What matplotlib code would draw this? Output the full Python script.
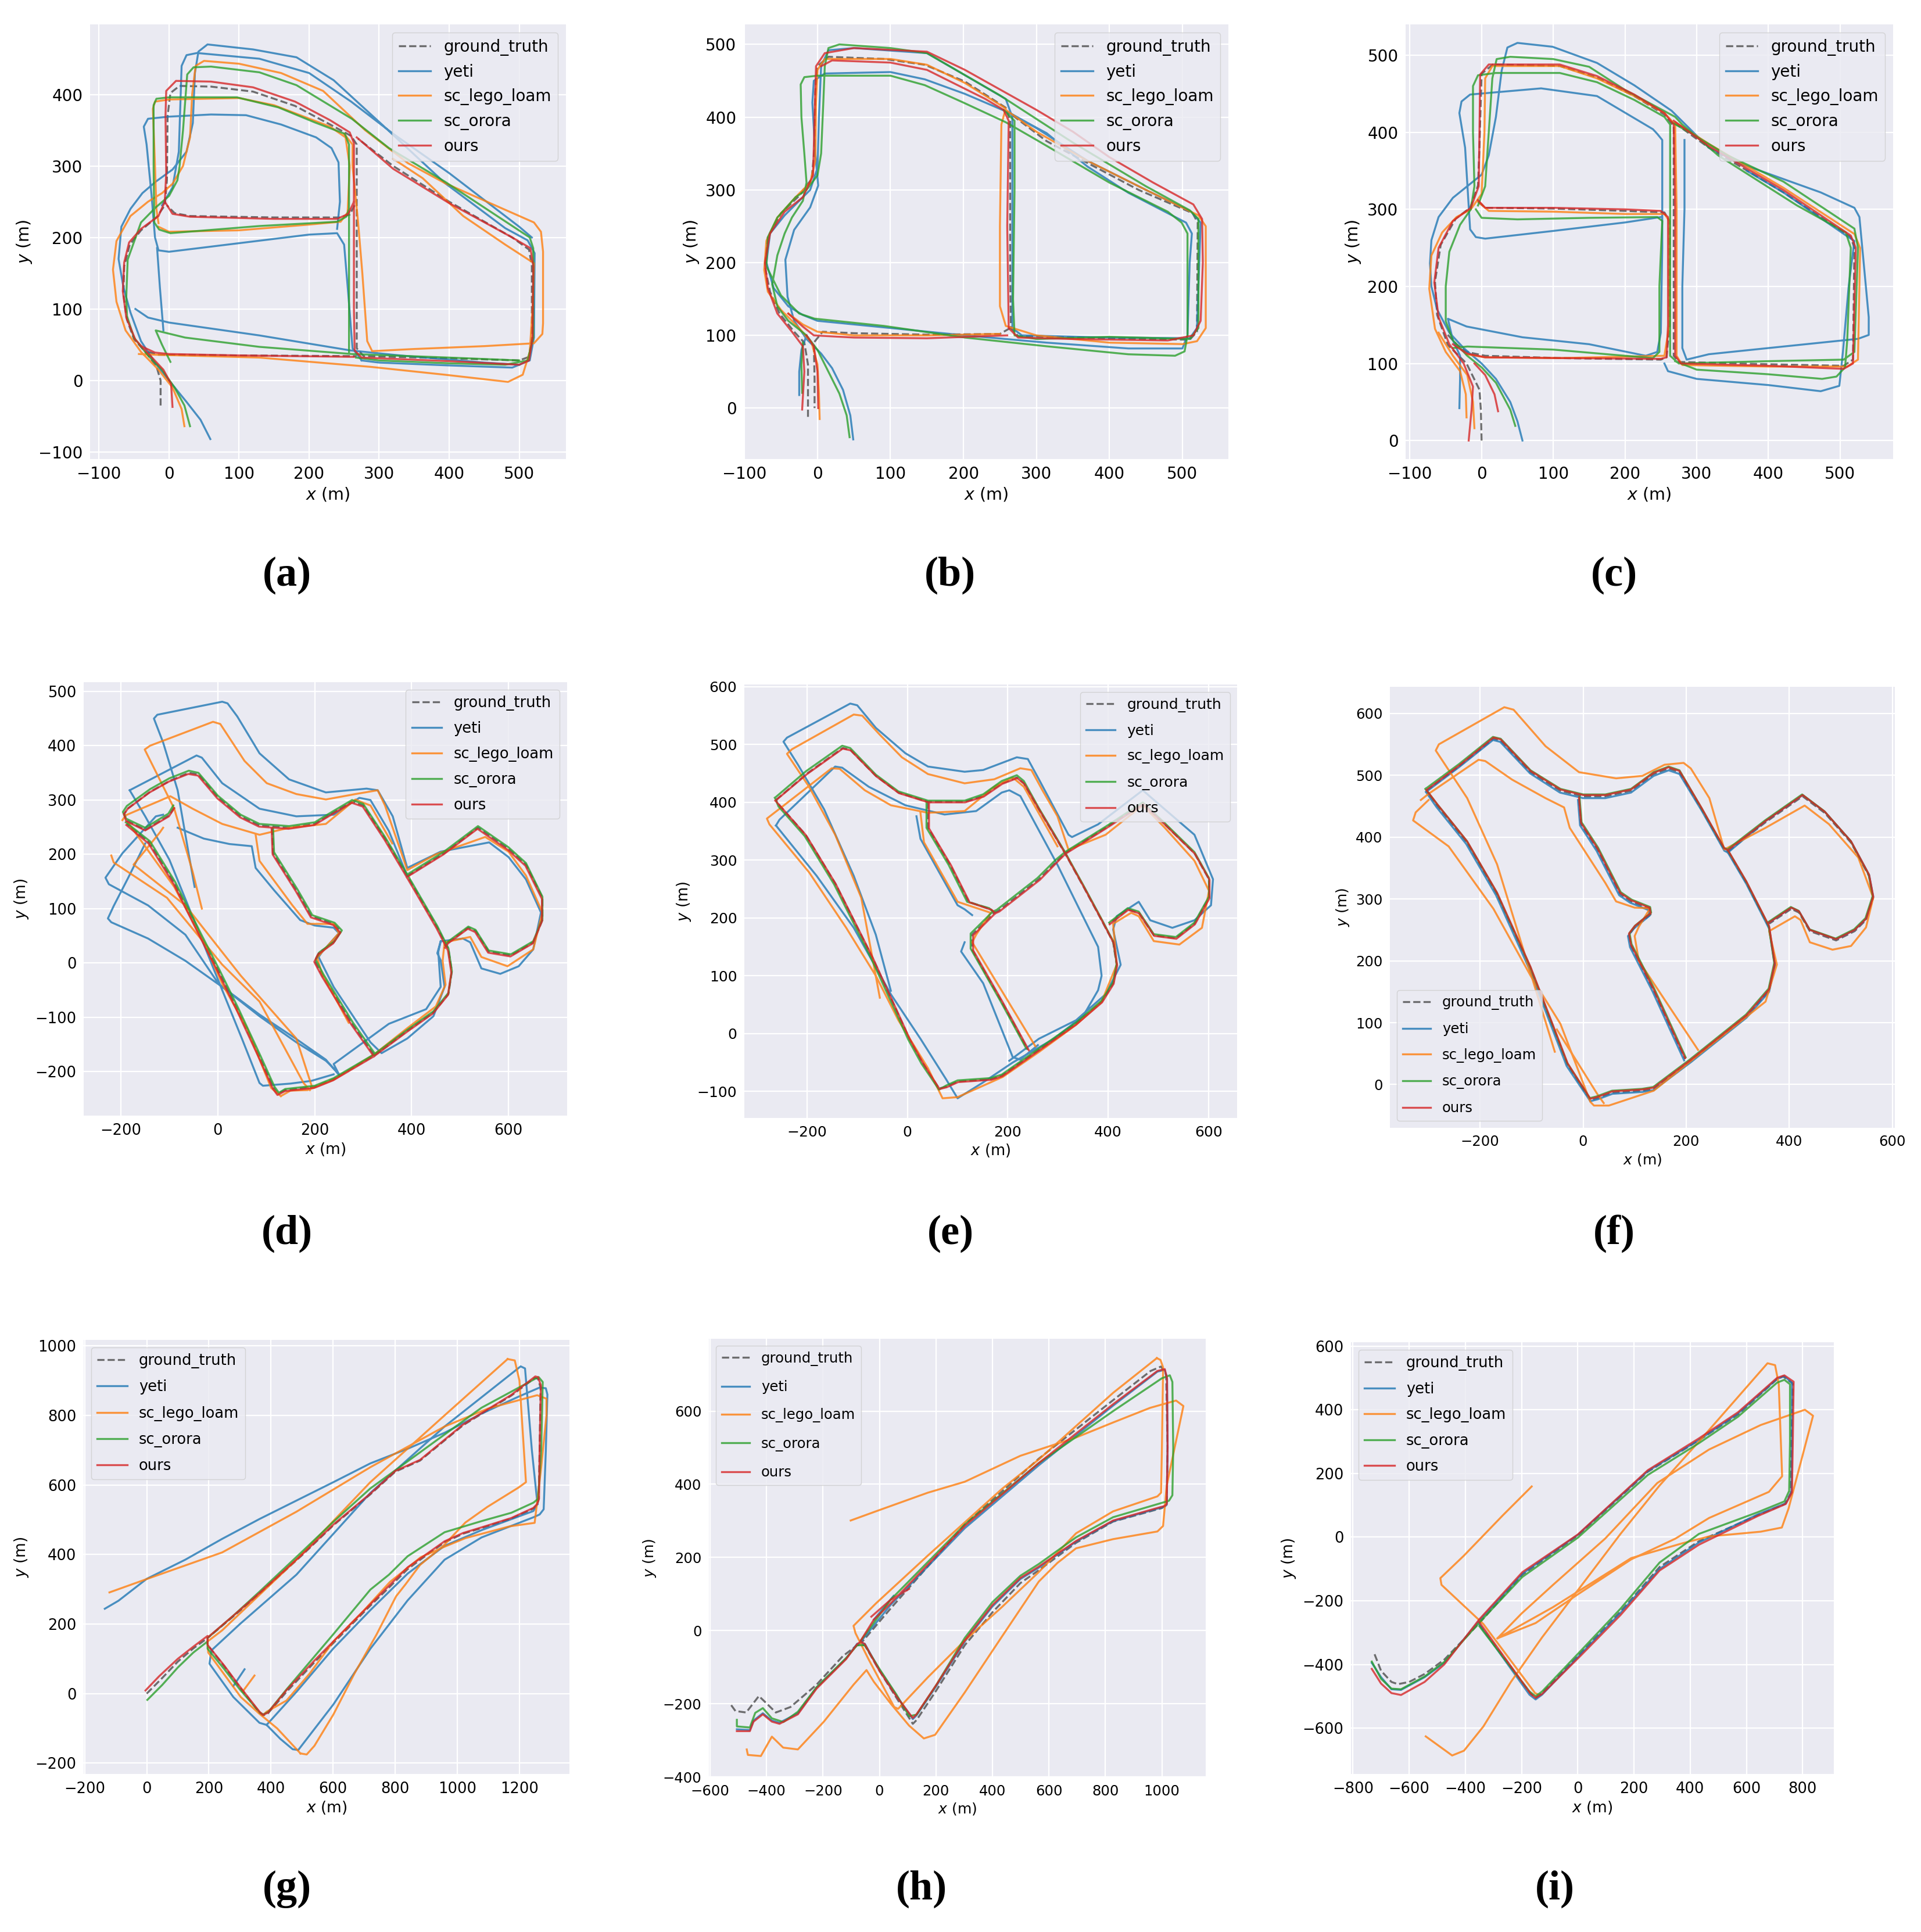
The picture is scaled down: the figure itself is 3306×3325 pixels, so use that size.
import numpy as np
import matplotlib.pyplot as plt

# trajectories, (x, y) in metres; None breaks a stroke

# ---- panel (a) ----
A_GT = [(-12, -35), (-12, 0), (-18, 20), (-32, 38), (-50, 58), (-60, 85), (-65, 120), (-64, 160), (-56, 190),
        (-40, 210), (-18, 228), (-6, 245), (-3, 280), (-2, 370), (2, 402), (15, 412), (60, 411), (120, 404),
        (180, 384), (230, 358), (260, 342), (268, 330), (268, 240), (268, 100), (268, 45), (278, 34), (400, 31),
        (500, 28), (514, 33), (518, 60), (518, 160), (514, 183), (490, 200), (400, 250), (320, 300), (270, 338), None,
        (265, 245), (258, 232), (245, 228), (150, 228), (30, 230), (8, 234), (-3, 245), None,
        (-30, 40), (-15, 36), (100, 35), (268, 34)]
A_YETI = [(59, -82), (45, -55), (25, -30), (0, 0), (-20, 25), (-40, 55), (-55, 95), (-65, 130), (-72, 170),
          (-68, 215), (-55, 240), (-38, 262), (-19, 278), (5, 295), (25, 320), (34, 360), (37, 430), (42, 460),
          (55, 470), (120, 463), (182, 452), (235, 420), (304, 358), (394, 276), (480, 213), (512, 196), (522, 178),
          (521, 60), (515, 28), (490, 18), (400, 21), (300, 25), (275, 28), None,
          (275, 28), (262, 45), (256, 120), (250, 190), (240, 206), (200, 204), (100, 192), (0, 180), (-15, 182),
          (-20, 200), (-25, 260), (-32, 330), (-36, 355), (-30, 366), (0, 369), (60, 372), (110, 371), (160, 358),
          (210, 340), (232, 325), (242, 305), (244, 250), (240, 212), None,
          (-48, 100), (-30, 88), (0, 81), (129, 63), (259, 42), (330, 35), (450, 25), (500, 22), None,
          (-10, 245), (5, 270), (14, 320), (16, 380), (18, 440), (25, 455), (40, 458), (129, 450), (200, 430),
          (260, 390), (320, 345), (400, 290), (500, 215), (518, 200), None,
          (-17, 185), (-13, 130), (-8, 70)]
A_LEGO = [(22, -64), (18, -40), (5, -10), (-15, 15), (-40, 40), (-62, 70), (-75, 110), (-80, 155), (-75, 195),
          (-55, 230), (-30, 250), (-10, 262), (5, 275), (20, 300), (30, 340), (33, 400), (38, 440), (50, 447),
          (100, 443), (160, 430), (220, 405), (280, 350), (341, 304), (394, 276), (470, 243), (521, 221), (531, 208),
          (534, 180), (534, 80), (533, 65), (521, 52), (450, 48), (350, 44), (290, 41), (283, 55), (276, 150),
          (270, 221), (262, 300), (262, 330), (250, 345), None,
          (-15, 215), (0, 208), (100, 210), (200, 218), (245, 222), (255, 235), (258, 300), (252, 340), (230, 355),
          (150, 385), (100, 395), (0, 393), (-20, 390), (-23, 380), (-20, 300), (-18, 240), (-15, 220), None,
          (-43, 37), (-20, 36), (129, 32), (288, 19), (394, 8), (484, -2), (505, 8), (515, 40), (519, 100),
          (521, 164), (480, 190), (420, 230), (362, 283), (320, 310)]
A_ORORA = [(30, -64), (22, -35), (8, -10), (-10, 15), (-30, 35), (-50, 60), (-60, 90), (-61, 117), (-59, 169),
           (-40, 221), (-19, 242), (0, 258), (12, 280), (15, 299), (20, 350), (26, 428), (35, 438), (60, 439),
           (129, 431), (182, 413), (261, 366), (314, 325), (394, 278), (515, 200), (520, 185), (520, 60), (512, 28),
           (480, 22), (400, 24), (300, 28), (267, 32), None,
           (257, 40), (257, 200), (257, 330), (251, 345), (208, 361), (156, 382), (97, 396), (0, 396), (-18, 394),
           (-22, 385), (-22, 300), (-21, 221), (-14, 211), (2, 206), (129, 216), (240, 222), (253, 229), (257, 240),
           None, (2, 26), (-10, 50), (-19, 70), (23, 60), (129, 47), (261, 37), (400, 32), (500, 28)]
A_OURS = [(5, -37), (3, -5), (-8, 15), (-28, 36), (-48, 57), (-61, 88), (-66, 125), (-64, 165), (-57, 193),
          (-40, 212), (-15, 230), (-6, 250), (-4, 290), (-5, 370), (-4, 405), (10, 419), (60, 418), (120, 410),
          (180, 390), (230, 364), (258, 347), (264, 332), (264, 250), (264, 100), (265, 42), (275, 32), (400, 27),
          (500, 22), (514, 28), (519, 60), (520, 160), (516, 185), (490, 200), (400, 248), (320, 296), (268, 340),
          None, (264, 250), (256, 233), (240, 226), (150, 226), (30, 229), (5, 233), (-6, 250), None,
          (-40, 48), (-20, 39), (0, 37), (100, 35), (264, 33)]

# ---- panel (b) ----
B_GT = [(-13, -12), (-13, 60), (-18, 90), (-32, 105), (-52, 130), (-65, 160), (-72, 194), (-68, 235), (-50, 268),
        (-25, 292), (-8, 315), (-4, 357), (-3, 434), (0, 470), (15, 483), (91, 480), (147, 472), (202, 449),
        (258, 413), (264, 395), (264, 200), (265, 110), (275, 99), (400, 96), (510, 94), (520, 105), (521, 255),
        (514, 268), (440, 300), (370, 337), (314, 367), (264, 405), None,
        (264, 110), (250, 102), (150, 101), (50, 103), (7, 105), (-5, 90), (-4, 40), (-4, 0)]
B_YETI = [(49, -43), (45, -10), (35, 25), (20, 55), (5, 75), (-15, 95), (-32, 120), (-41, 153), (-44, 204),
          (-32, 245), (-10, 276), (1, 306), (-3, 350), (-7, 420), (-5, 450), (10, 460), (100, 462), (147, 452),
          (202, 432), (258, 408), (314, 378), (370, 332), (426, 296), (505, 255), (513, 240), (510, 200), (507, 100),
          (500, 82), (426, 82), (314, 90), (202, 100), (91, 111), (0, 120), (-20, 128), (-40, 140), (-60, 165),
          (-70, 200), (-65, 240), (-45, 265), (-25, 285), (-10, 300), (0, 330), (2, 400), (5, 470), (15, 492),
          (50, 495), (150, 488), (258, 425), (267, 400), (267, 250), (267, 110), (280, 100), (400, 97), (510, 96),
          (520, 110), (525, 255), (512, 270), (450, 300), (370, 340), (300, 385), (265, 405), None,
          (-25, 18), (-25, 50), (-22, 80), (-15, 100)]
B_LEGO = [(3, -15), (2, 20), (0, 60), (-8, 90), (-25, 110), (-50, 135), (-68, 160), (-73, 190), (-70, 230),
          (-55, 262), (-30, 290), (-10, 310), (-3, 340), (-2, 420), (0, 465), (10, 480), (100, 480), (150, 472),
          (202, 447), (258, 412), (252, 390), (250, 250), (250, 140), (258, 113), (300, 100), (400, 90), (500, 88),
          (520, 92), (532, 110), (532, 250), (522, 265), (450, 300), (370, 340), (300, 380), (258, 410), None,
          (250, 102), (150, 100), (50, 100), (0, 105), (-20, 115), (-40, 130)]
B_ORORA = [(44, -40), (40, -10), (30, 20), (15, 50), (0, 80), (-15, 100), (-40, 120), (-55, 140), (-62, 170),
           (-55, 210), (-45, 240), (-35, 262), (-20, 285), (-15, 310), (-18, 350), (-22, 400), (-23, 445), (-18, 455),
           (0, 457), (100, 457), (147, 444), (200, 420), (258, 393), (303, 367), (400, 310), (480, 270), (499, 255),
           (507, 240), (507, 100), (503, 78), (490, 72), (426, 74), (314, 85), (202, 97), (91, 113), (-4, 123),
           (-25, 130), (-50, 155), (-70, 195), (-68, 235), (-55, 262), (-30, 290), (-15, 300), (0, 320), (5, 350),
           (8, 420), (10, 470), (15, 495), (30, 500), (100, 495), (150, 488), (250, 430), (350, 365), (450, 305),
           (510, 272), (522, 260), (522, 110), (510, 95), (400, 98), (300, 95), (270, 100), (268, 150), (270, 300),
           (270, 395), (255, 410), None, (-21, 21), (-22, 60), (-20, 90)]
B_OURS = [(-21, -2), (-18, 50), (-20, 85), (-35, 105), (-55, 130), (-68, 165), (-72, 200), (-65, 240), (-45, 270),
          (-20, 290), (-6, 320), (-4, 400), (-2, 470), (10, 488), (50, 495), (150, 490), (202, 465), (300, 410),
          (350, 380), (400, 345), (460, 310), (515, 280), (527, 260), (528, 200), (525, 120), (515, 100), (480, 93),
          (350, 95), (275, 97), (262, 110), (260, 250), (262, 395), (255, 410), (230, 425), (150, 465), (100, 475),
          (20, 478), (5, 470), None,
          (260, 100), (150, 96), (50, 97), (-5, 100), (-20, 112), (-40, 130), None,
          (1, 0), (0, 50), (-5, 85), (-15, 100)]

# ---- panel (c) ----
C_GT = [(0, 0), (-1, 40), (-3, 66), (-21, 100), (-47, 124), (-62, 163), (-65, 206), (-57, 254), (-36, 288),
        (-16, 302), (-5, 331), (-3, 380), (0, 476), (16, 488), (109, 486), (161, 471), (213, 447), (255, 423),
        (268, 408), (268, 300), (268, 200), (268, 110), (275, 102), (400, 99), (505, 97), (518, 105), (520, 250),
        (515, 264), (421, 322), (317, 380), (268, 413), None,
        (-5, 310), (5, 302), (100, 301), (200, 298), (255, 296), (262, 285), (262, 150), (258, 108), (250, 105),
        (109, 107), (5, 110), (-21, 115), (-35, 125), (-50, 140)]
C_YETI = [(57, 0), (50, 25), (40, 50), (20, 80), (0, 100), (-25, 120), (-45, 140), (-62, 170), (-70, 200),
          (-72, 230), (-70, 260), (-60, 290), (-40, 315), (-20, 330), (0, 345), (10, 370), (20, 420), (28, 480),
          (36, 510), (50, 516), (99, 511), (161, 490), (213, 461), (265, 428), (317, 380), (359, 360), (473, 322),
          (520, 302), (527, 290), (533, 230), (540, 160), (540, 137), (525, 132), (473, 127), (400, 120), (317, 112),
          (286, 105), (280, 120), (280, 200), (283, 300), (283, 390), None,
          (-31, 42), (-30, 80), (-30, 110), (-40, 130), (-47, 158), (-21, 148), (57, 134), (150, 125), (229, 110),
          (245, 115), (250, 140), (252, 250), (252, 390), (245, 398), (239, 404), (161, 447), (83, 457), (-16, 449),
          (-28, 440), (-31, 425), (-23, 380), (-16, 274), (-8, 264), (5, 262), (100, 272), (200, 283), (250, 290),
          None, (255, 100), (260, 90), (300, 80), (400, 72), (473, 64), (499, 71), (504, 115), (512, 200),
          (520, 259), (510, 265), (421, 322), (370, 350)]
C_LEGO = [(-21, 30), (-22, 60), (-30, 90), (-50, 115), (-65, 145), (-73, 197), (-70, 240), (-55, 270), (-35, 290),
          (-15, 300), (0, 320), (4, 400), (5, 470), (15, 486), (109, 486), (161, 470), (213, 447), (255, 425),
          (270, 410), (272, 300), (272, 110), (280, 98), (400, 96), (510, 96), (525, 105), (528, 250), (520, 268),
          (421, 328), (317, 385), (270, 413), None,
          (-10, 16), (-12, 50), (-20, 85), (-40, 110), (-60, 140), None,
          (-5, 310), (10, 298), (100, 297), (200, 294), (255, 294), (262, 285), (262, 150), (255, 110), (109, 107),
          (5, 108), (-21, 112)]
C_ORORA = [(47, 19), (40, 40), (20, 75), (0, 95), (-20, 110), (-40, 130), (-50, 155), (-50, 200), (-45, 245),
           (-30, 280), (-15, 300), (-10, 330), (-12, 400), (-12, 460), (-5, 474), (20, 477), (109, 477), (161, 465),
           (213, 442), (255, 420), (263, 410), (263, 300), (263, 110), (275, 100), (400, 103), (505, 105), (520, 115),
           (525, 250), (520, 275), (421, 336), (343, 370), (290, 400), (265, 413), None,
           (-40, 120), (-20, 122), (100, 118), (200, 110), (239, 107), (248, 115), (248, 200), (252, 285), (245, 290),
           (150, 289), (50, 287), (0, 289), (-8, 300), None,
           (270, 103), (300, 92), (400, 86), (475, 80), (495, 83), (507, 95), (510, 130), (515, 250), (508, 270),
           (440, 305), (330, 370), (280, 410), (270, 420), (200, 455), (150, 485), (100, 495), (40, 498), (21, 495),
           (15, 470), (10, 400), (5, 330), (-5, 305)]
C_OURS = [(-18, 0), (-14, 40), (-12, 70), (-25, 100), (-45, 125), (-60, 160), (-66, 205), (-60, 250), (-40, 285),
          (-15, 302), (-4, 330), (-3, 400), (-2, 475), (10, 488), (109, 488), (161, 473), (213, 449), (255, 425),
          (268, 410), (270, 300), (270, 110), (278, 100), (400, 97), (505, 93), (518, 100), (522, 250), (515, 266),
          (421, 325), (317, 382), (268, 415), None,
          (-5, 312), (5, 302), (100, 302), (200, 300), (250, 298), (260, 290), (260, 150), (258, 108), (250, 106),
          (109, 107), (5, 108), (-21, 113), (-40, 125), None,
          (23, 38), (18, 60), (5, 85), (-10, 100)]

# ---- panel (d) ----
D_GT = [(-90, 287), (-100, 272), (-150, 245), (-188, 262), (-193, 275), (-185, 285), (-140, 315), (-100, 335),
        (-60, 350), (-40, 347), (0, 305), (47, 270), (86, 253), (147, 249), (200, 256), (239, 277), (277, 297),
        (300, 290), (345, 229), (391, 160), (453, 65), (476, 25), (483, -16), (476, -57), (445, -91), (391, -125),
        (323, -170), (239, -214), (200, -228), (139, -234), (124, -241), (115, -230), (86, -173), (40, -85),
        (2, -16), (-37, 52), (-90, 147), (-142, 222), (-188, 256), None,
        (391, 160), (467, 202), (537, 249), (600, 210), (636, 181), (670, 120), (670, 79), (651, 38), (605, 14),
        (559, 21), (532, 59), (517, 65), (476, 38), (470, 30), None,
        (112, 249), (114, 202), (162, 134), (193, 86), (239, 72), (254, 58), (239, 38), (208, 18), (200, 4),
        (216, -23), (277, -112), (323, -170)]
D_YETI = [(-48, 140), (-60, 200), (-83, 318), (-113, 406), (-132, 450), (-125, 457), (9, 481), (20, 478), (40, 454),
          (86, 386), (147, 338), (223, 314), (307, 321), (330, 318), (361, 270), (391, 175), (460, 205), (560, 222),
          (600, 195), (636, 154), (667, 93), (651, 25), (621, -6), (583, -20), (544, -10), (521, 38), (506, 45),
          (460, 40), (455, 20), (460, -44), (430, -85), (353, -112), (239, -186), (250, -205), None,
          (-182, 318), (-44, 382), (-33, 378), (9, 331), (86, 284), (162, 270), (239, 273), (292, 304), (315, 300),
          (353, 243), (391, 160), None,
          (-113, 273), (-128, 270), (-197, 202), (-232, 157), (-225, 145), (-144, 106), (-67, 52), (2, -39),
          (86, -95), (162, -140), (223, -178), (251, -207), None,
          (-83, 249), (-29, 229), (24, 219), (70, 215), (78, 175), (116, 134), (170, 79), (200, 69), (239, 65),
          (250, 55), (215, 20), (208, 11), (239, -44), (315, -146), (338, -166), (391, -139), (445, -98),
          (468, -44), (460, 5), (453, 18), (460, 40), None,
          (-150, 220), (-185, 157), (-215, 105), (-227, 82), (-220, 75), (-144, 45), (-67, 4), (9, -44), (86, -98),
          (162, -146), (223, -180), (246, -200), None,
          (-182, 318), (-150, 270), (-100, 190), (-37, 52), (9, -50), (50, -140), (86, -221), (93, -226),
          (150, -222), (193, -217), (239, -205)]
D_LEGO = [(-33, 100), (-52, 168), (-90, 284), (-128, 352), (-151, 393), (-140, 400), (-10, 444), (5, 440),
          (55, 372), (101, 331), (162, 311), (223, 301), (284, 311), (330, 318), (345, 290), (391, 171), (450, 200),
          (552, 232), (600, 205), (636, 161), (670, 93), (651, 25), (598, -6), (544, 11), (521, 48), (468, 38),
          (464, 4), (470, -40), (450, -80), (391, -120), (323, -168), (239, -215), (185, -234), (150, -235),
          (130, -245), None,
          (-197, 263), (-190, 272), (-98, 307), (-52, 284), (9, 256), (86, 236), (147, 249), (223, 256), (284, 301),
          (300, 295), (315, 290), (360, 220), None,
          (-220, 198), (-215, 185), (-105, 120), (9, -3), (86, -71), (177, -221), (190, -234), None,
          (-113, 249), (-120, 240), (-174, 181), (-165, 175), (-67, 106), (47, -23), (162, -139), (195, -230), None,
          (78, 236), (86, 188), (154, 106), (185, 72), (239, 72), (250, 55), (205, 10), (215, -20), (270, -110), None,
          (-185, 258), (-90, 140), (-30, 40), (10, -40), (60, -120), (110, -230), (130, -245)]
D_ORORA = [(-92, 290), (-102, 275), (-150, 249), (-190, 266), (-196, 278), (-188, 289), (-140, 320), (-100, 340),
           (-60, 354), (-40, 350), (0, 308), (47, 273), (86, 256), (147, 252), (200, 259), (239, 280), (277, 300),
           (300, 293), (345, 232), (391, 163), (453, 68), (476, 27), (483, -14), (476, -55), (445, -89), (391, -123),
           (323, -168), (239, -212), (200, -226), (139, -232), (126, -239), (117, -228), (88, -171), (42, -83),
           (4, -14), (-35, 54), (-88, 149), (-140, 224), (-190, 259), None,
           (391, 163), (467, 205), (537, 252), (600, 213), (636, 184), (670, 122), (670, 81), (651, 40), (605, 16),
           (559, 23), (532, 61), (517, 67), (476, 40), (470, 32), None,
           (114, 249), (116, 204), (164, 136), (195, 88), (241, 74), (256, 60), (241, 40), (210, 20), (202, 6),
           (218, -21), (279, -110), (325, -168)]
D_OURS = [(-90, 285), (-101, 270), (-150, 244), (-189, 261), (-194, 274), (-186, 284), (-141, 314), (-101, 334),
          (-61, 348), (-41, 345), (-1, 303), (46, 268), (85, 251), (146, 247), (199, 254), (238, 275), (276, 295),
          (299, 288), (344, 227), (390, 158), (452, 63), (475, 23), (482, -18), (475, -59), (444, -93), (390, -127),
          (322, -172), (238, -216), (199, -230), (138, -236), (123, -243), (114, -232), (85, -175), (39, -87),
          (1, -18), (-38, 50), (-91, 145), (-143, 220), (-189, 254), None,
          (390, 158), (466, 200), (536, 247), (599, 208), (635, 179), (669, 118), (669, 77), (650, 36), (604, 12),
          (558, 19), (531, 57), (516, 63), (475, 36), (469, 28), None,
          (111, 247), (113, 200), (161, 132), (192, 84), (238, 70), (253, 56), (238, 36), (207, 16), (199, 2),
          (215, -25), (276, -114), (322, -172)]

# ---- panel (e) ----
E_GT = [(-262, 404), (-200, 450), (-129, 494), (-114, 491), (-63, 446), (-18, 417), (41, 401), (114, 401),
        (151, 411), (188, 433), (218, 443), (232, 433), (262, 388), (314, 312), (351, 254), (387, 196), (410, 158),
        (417, 119), (410, 87), (387, 55), (336, 17), (262, -28), (188, -73), (166, -79), (100, -83), (77, -92),
        (63, -95), (30, -50), (4, -9), (-70, 132), (-144, 260), (-203, 344), (-255, 395), (-262, 404), None,
        (314, 312), (395, 356), (469, 398), (513, 362), (572, 312), (601, 267), (601, 235), (572, 190), (535, 165),
        (491, 170), (461, 209), (439, 215), (402, 190), None,
        (41, 401), (41, 356), (85, 292), (122, 228), (166, 215), (173, 209), (151, 190), (129, 171), (129, 145),
        (188, 55), (240, -28), None,
        (173, 209), (181, 212), (262, 267), (299, 299), (314, 312)]
E_YETI = [(-33, 74), (-63, 171), (-107, 273), (-166, 388), (-218, 465), (-247, 505), (-240, 512), (-114, 571),
          (-100, 568), (-63, 529), (-4, 485), (41, 462), (114, 453), (151, 456), (218, 478), (240, 475), (262, 440),
          (321, 344), (328, 340), (380, 362), (469, 421), (513, 388), (572, 344), (609, 267), (605, 222), (572, 196),
          (528, 183), (484, 196), (461, 228), (417, 203), (410, 180), (425, 119), (395, 68), (336, 23), (262, -9),
          (203, -47), None,
          (-262, 360), (-255, 370), (-144, 462), (-130, 460), (-77, 427), (-4, 395), (74, 379), (137, 385),
          (188, 417), (203, 421), (225, 411), (299, 292), (340, 220), (380, 150), (387, 100), (380, 75), (350, 30),
          (290, -10), (210, -50), (150, -85), (100, -112), (77, -79), (26, -9), (-33, 68), (-107, 183), (-181, 273),
          (-262, 360), None,
          (18, 376), (26, 337), (100, 222), (114, 215), (129, 205), None,
          (114, 158), (107, 142), (151, 87), (210, -41), (225, -45), (260, -20)]
E_LEGO = [(-55, 62), (-92, 235), (-144, 344), (-196, 427), (-240, 484), (-230, 492), (-107, 552), (-90, 550),
          (-55, 517), (-11, 478), (41, 449), (114, 433), (173, 440), (225, 459), (247, 456), (269, 421), (299, 376),
          (321, 318), (395, 344), (469, 395), (513, 356), (572, 299), (601, 247), (587, 183), (542, 154), (491, 160),
          (461, 203), (446, 209), (410, 190), (417, 119), (387, 55), (336, 15), (262, -32), (190, -75), (100, -110),
          (70, -112), (41, -60), (-18, 23), (-63, 100), (-122, 183), (-196, 279), (-275, 362), (-280, 372),
          (-151, 459), (-135, 458), (-85, 421), (-33, 395), (41, 382), (114, 385), (173, 427), (210, 443),
          (232, 427), (299, 324), None,
          (26, 382), (33, 331), (100, 228), (166, 209), (137, 171), (129, 158), (188, 74), (255, -22)]
E_ORORA = [(-264, 408), (-202, 454), (-130, 498), (-114, 494), (-63, 448), (-18, 419), (41, 403), (114, 403),
           (151, 414), (188, 437), (218, 447), (232, 437), (262, 390), (314, 314), (351, 256), (387, 198),
           (410, 160), (417, 121), (410, 89), (387, 57), (336, 19), (262, -26), (188, -71), (166, -77), (100, -81),
           (77, -90), (63, -97), (28, -52), (2, -11), (-72, 130), (-146, 258), (-205, 342), (-257, 393),
           (-264, 408), None,
           (314, 314), (395, 358), (469, 400), (513, 364), (572, 314), (601, 269), (601, 237), (572, 192),
           (535, 167), (491, 172), (461, 211), (439, 217), (402, 192), None,
           (38, 401), (38, 356), (82, 292), (119, 228), (163, 217), (170, 211), (148, 192), (126, 173), (126, 147),
           (185, 57), (237, -26), None,
           (170, 211), (178, 214), (259, 269), (296, 301), (314, 314)]
E_OURS = [(-263, 403), (-200, 449), (-129, 493), (-113, 490), (-62, 445), (-17, 416), (42, 400), (115, 400),
          (152, 410), (189, 432), (219, 442), (233, 432), (263, 387), (315, 311), (352, 253), (388, 195), (411, 157),
          (418, 118), (411, 86), (388, 54), (337, 16), (263, -29), (189, -74), (167, -80), (101, -84), (78, -93),
          (64, -96), (31, -51), (5, -10), (-69, 131), (-143, 259), (-202, 343), (-254, 394), (-263, 403), None,
          (315, 311), (396, 355), (470, 397), (514, 361), (573, 311), (602, 266), (602, 234), (573, 189),
          (536, 164), (492, 169), (462, 208), (440, 214), (403, 189), None,
          (43, 400), (43, 355), (87, 291), (124, 227), (168, 214), (175, 208), (153, 189), (131, 170), (131, 144),
          (190, 54), (242, -29), None,
          (175, 208), (183, 211), (264, 266), (300, 298), (315, 311)]

# ---- panel (f) ----
F_GT = [(-304, 475), (-240, 515), (-174, 559), (-160, 556), (-102, 505), (-44, 475), (0, 466), (43, 466), (93, 475),
        (137, 502), (166, 511), (187, 505), (230, 445), (274, 380), (281, 377), (317, 326), (361, 254), (372, 194),
        (361, 152), (317, 110), (209, 38), (137, -7), (115, -10), (57, -13), (28, -22), (14, -25), (-30, 32),
        (-102, 188), (-167, 308), (-225, 391), (-283, 451), (-304, 475), None,
        (281, 377), (354, 424), (426, 466), (469, 439), (520, 391), (555, 337), (563, 302), (549, 266), (527, 248),
        (491, 233), (440, 248), (419, 278), (404, 284), (361, 260), None,
        (-8, 462), (-4, 421), (28, 380), (72, 308), (93, 296), (129, 284), (131, 275), (100, 254), (89, 242),
        (93, 224), (137, 152), (198, 41)]
F_YETI = [(-305, 473), (-241, 513), (-175, 557), (-161, 554), (-103, 503), (-45, 472), (0, 463), (43, 463),
          (93, 472), (137, 499), (166, 508), (187, 502), (230, 443), (274, 378), (281, 375), (317, 324), (361, 252),
          (372, 192), (361, 150), (317, 108), (209, 36), (137, -9), (115, -12), (57, -15), (28, -24), (14, -27),
          (-32, 30), (-104, 186), (-169, 306), (-227, 389), (-285, 449), (-305, 473), None,
          (281, 375), (354, 426), (426, 468), (469, 441), (520, 393), (555, 339), (563, 304), (549, 268), (527, 250),
          (491, 235), (440, 250), (419, 280), (404, 286), (361, 262), None,
          (-10, 460), (-6, 419), (26, 378), (70, 306), (91, 294), (127, 282), (129, 273), (98, 252), (87, 240),
          (91, 222), (135, 150), (196, 39)]
F_LEGO = [(-55, 53), (-116, 218), (-167, 356), (-225, 463), (-286, 540), (-280, 550), (-153, 610), (-135, 606),
          (-73, 547), (-8, 505), (64, 495), (115, 499), (158, 517), (195, 520), (209, 511), (245, 463), (274, 380),
          (354, 415), (430, 451), (477, 421), (534, 367), (563, 302), (549, 254), (520, 224), (484, 218), (440, 230),
          (422, 266), (411, 272), (361, 248), (376, 194), (354, 134), (245, 62), (137, -10), (50, -34), (21, -34),
          (14, -28), (-44, 98), (-102, 176), (-174, 284), (-261, 385), (-330, 427), (-325, 440), (-300, 460), None,
          (-315, 460), (-300, 470), (-203, 525), (-190, 523), (-138, 493), (-73, 463), (-37, 448), (-26, 415),
          (43, 326), (64, 296), (100, 286), (130, 285), (108, 255), (100, 240), (108, 200), (223, 56), None,
          (-51, 89), (28, -16), (40, -30)]
F_ORORA = [(-306, 478), (-241, 518), (-175, 562), (-160, 559), (-102, 508), (-44, 478), (0, 469), (43, 469),
           (93, 478), (137, 505), (166, 514), (187, 508), (229, 448), (273, 383), (280, 380), (316, 329), (360, 257),
           (371, 197), (360, 155), (316, 113), (208, 41), (136, -4), (114, -7), (56, -10), (27, -19), (13, -22),
           (-31, 35), (-103, 191), (-168, 311), (-226, 394), (-284, 454), (-306, 478), None,
           (280, 380), (353, 427), (425, 469), (468, 442), (519, 394), (554, 340), (562, 305), (548, 269),
           (526, 251), (490, 236), (439, 251), (418, 281), (403, 287), (360, 263), None,
           (-7, 465), (-3, 424), (29, 383), (73, 311), (94, 299), (130, 287), (132, 278), (101, 257), (90, 245),
           (94, 227), (138, 155), (199, 44)]
F_OURS = [(-304, 476), (-240, 516), (-174, 561), (-160, 558), (-102, 507), (-44, 477), (0, 468), (43, 468),
          (93, 477), (137, 504), (166, 513), (187, 507), (230, 447), (274, 382), (281, 379), (317, 328), (361, 256),
          (372, 196), (361, 154), (317, 112), (209, 40), (137, -5), (115, -8), (57, -11), (28, -20), (14, -23),
          (-30, 34), (-102, 190), (-167, 310), (-225, 393), (-283, 453), (-304, 476), None,
          (281, 379), (354, 426), (426, 468), (469, 441), (520, 393), (555, 339), (563, 304), (549, 268), (527, 250),
          (491, 235), (440, 250), (419, 280), (404, 286), (361, 262), None,
          (-8, 464), (-4, 423), (28, 382), (72, 310), (93, 298), (129, 286), (131, 277), (100, 256), (89, 244),
          (93, 226), (137, 154), (198, 43)]

# ---- panel (g) ----
G_GT = [(0, 0), (50, 45), (100, 92), (150, 130), (196, 160), (196, 140), (250, 78), (300, 18), (363, -55),
        (374, -63), (390, -57), (450, 5), (542, 92), (661, 200), (720, 253), (780, 305), (840, 358), (899, 397),
        (959, 435), (1019, 460), (1078, 476), (1174, 503), (1245, 532), (1257, 543), (1262, 560), (1265, 700),
        (1268, 880), (1260, 905), (1250, 908), (1174, 857), (1019, 772), (959, 728), (880, 670), (800, 638),
        (720, 573), (601, 484), (500, 398), (363, 287), (280, 223), (196, 160)]
G_YETI = [(-135, 244), (-91, 267), (0, 330), (124, 385), (243, 445), (363, 502), (482, 555), (601, 608), (720, 662),
          (840, 704), (959, 750), (1078, 805), (1200, 855), (1265, 880), (1285, 878), (1290, 860), (1285, 700),
          (1278, 530), (1265, 515), (1245, 507), (1078, 449), (959, 385), (840, 268), (720, 129), (601, -31),
          (488, -162), (470, -160), (430, -130), (386, -90), (363, -84), (279, -10), (202, 86), (208, 124),
          (300, 200), (482, 342), (720, 577), (959, 768), (1078, 852), (1204, 941), (1218, 935), (1240, 700),
          (1258, 545), None,
          (386, -90), (482, 5), (601, 130), (720, 240), (840, 345), (959, 425), (1078, 470), (1245, 525),
          (1258, 545), None,
          (279, 22), (315, 70)]
G_LEGO = [(-120, 291), (5, 331), (243, 406), (482, 523), (720, 651), (959, 768), (1100, 820), (1257, 858),
          (1287, 848), (1287, 800), (1270, 650), (1249, 491), (1169, 481), (1026, 447), (955, 421), (882, 392),
          (783, 321), (700, 240), (601, 150), (525, 58), (450, -20), (386, -52), (374, -62), None,
          (1162, 962), (1185, 958), (1200, 900), (1221, 608), (1198, 593), (1097, 537), (1026, 492), (955, 425),
          (880, 370), (833, 314), (803, 280), (740, 170), (669, 58), (601, -60), (540, -150), (515, -175),
          (495, -172), None,
          (1162, 962), (959, 800), (720, 608), (482, 385), (243, 182), (196, 150), (198, 118), (303, -10),
          (363, -58), (420, -100), (495, -172), None,
          (309, 6), (347, 52)]
G_ORORA = [(2, -18), (50, 25), (100, 75), (150, 118), (196, 150), (196, 129), (250, 70), (300, 12), (365, -55),
           (376, -60), (392, -52), (450, 12), (601, 171), (720, 299), (780, 342), (840, 395), (959, 464),
           (1078, 496), (1174, 520), (1245, 549), (1260, 560), (1270, 700), (1275, 896), (1262, 910), (1250, 905),
           (1078, 822), (959, 745), (720, 590), (601, 494), (500, 408), (363, 293), (280, 225), (196, 160)]
G_OURS = [(-4, 9), (40, 50), (100, 100), (150, 135), (196, 166), (196, 140), (250, 80), (300, 20), (363, -52),
          (374, -61), (390, -55), (450, 10), (542, 97), (661, 204), (720, 257), (780, 310), (840, 363), (899, 400),
          (959, 438), (1019, 462), (1078, 478), (1174, 505), (1245, 534), (1257, 545), (1263, 560), (1265, 700),
          (1269, 886), (1260, 910), (1251, 912), (1174, 859), (1019, 774), (959, 730), (880, 672), (800, 640),
          (720, 575), (601, 486), (500, 400), (363, 289), (280, 225), (196, 161)]

# ---- panel (h) ----
H_GT = [(-525, -204), (-510, -220), (-472, -224), (-427, -179), (-400, -199), (-367, -224), (-315, -209),
        (-223, -148), (-130, -70), (-79, -40), (-52, -40), (0, -110), (118, -255), (131, -245), (200, -165),
        (302, -40), (400, 50), (499, 130), (564, 165), (696, 240), (827, 298), (1000, 335), (1017, 345),
        (1020, 500), (1015, 700), (997, 722), (960, 710), (827, 630), (564, 470), (302, 290), (39, 60), (-66, -35)]
H_YETI = [(-505, -270), (-459, -272), (-446, -246), (-413, -226), (-381, -246), (-354, -252), (-289, -226),
          (-223, -156), (-118, -76), (-79, -36), (-52, -36), (0, -108), (60, -178), (118, -242), (131, -232),
          (200, -153), (302, -30), (400, 66), (499, 141), (564, 172), (696, 243), (827, 299), (1010, 339),
          (1017, 344), (1020, 500), (1018, 688), (1010, 713), (984, 708), (827, 615), (564, 452), (302, 280),
          (39, 70), (-66, -30), None,
          (-20, 30), (50, 95)]
H_LEGO = [(-470, -325), (-466, -340), (-420, -343), (-381, -290), (-341, -320), (-289, -325), (-197, -249),
          (-92, -148), (-46, -108), (-20, -140), (39, -199), (105, -260), (157, -295), (197, -285), (302, -169),
          (433, -17), (564, 134), (630, 185), (696, 225), (827, 250), (984, 271), (1004, 286), (1017, 397),
          (1076, 614), (1050, 629), (958, 609), (827, 569), (696, 528), (499, 478), (302, 407), (171, 377),
          (-13, 326), (-102, 301), None,
          (982, 745), (827, 650), (564, 468), (433, 387), (302, 296), (171, 205), (-13, 74), (-92, 13), (-85, -7),
          (-39, -78), (52, -209), (66, -214), (171, -128), (302, -27), (433, 64), (564, 160), (696, 266),
          (827, 326), (984, 367), (997, 377), (1000, 500), (1004, 720), (995, 740), (982, 745)]
H_ORORA = [(-505, -244), (-505, -262), (-459, -265), (-440, -225), (-413, -212), (-381, -240), (-340, -250),
           (-289, -222), (-223, -155), (-118, -75), (-79, -40), (-52, -40), (0, -105), (60, -175), (105, -234),
           (131, -230), (200, -150), (302, -20), (400, 78), (499, 150), (564, 182), (696, 255), (827, 310),
           (1025, 355), (1037, 370), (1040, 500), (1037, 680), (1028, 698), (1000, 690), (827, 600), (564, 458),
           (302, 290), (39, 84), (-66, -27)]
H_OURS = [(-505, -275), (-459, -275), (-446, -249), (-413, -229), (-381, -249), (-354, -255), (-289, -229),
          (-223, -159), (-118, -78), (-79, -37), (-66, -30), (-52, -37), (0, -110), (60, -180), (118, -239),
          (131, -229), (200, -150), (302, -27), (400, 70), (499, 144), (564, 175), (696, 245), (827, 301),
          (1010, 341), (1017, 346), (1020, 500), (1018, 690), (1010, 715), (984, 710), (827, 619), (564, 458),
          (302, 286), (39, 74), (-20, 30), (-66, -27), None,
          (-29, 38), (39, 84), (105, 114)]

# ---- panel (i) ----
I_GT = [(-723, -368), (-700, -420), (-663, -455), (-640, -462), (-600, -455), (-545, -430), (-475, -385),
        (-350, -270), (-197, -118), (0, 5), (249, 205), (431, 304), (570, 385), (709, 496), (730, 505), (765, 482),
        (760, 300), (758, 139), (737, 104), (640, 69), (431, -13), (291, -94), (152, -234), (13, -362),
        (-127, -490), (-150, -505), (-169, -490), (-350, -275)]
I_YETI = [(-733, -395), (-700, -440), (-663, -478), (-629, -480), (-545, -440), (-475, -395), (-350, -262),
          (-197, -115), (0, 7), (249, 207), (431, 305), (570, 388), (709, 497), (735, 505), (762, 485), (762, 300),
          (760, 140), (740, 106), (640, 71), (431, -17), (291, -100), (152, -238), (13, -365), (-127, -495),
          (-150, -510), (-172, -495), (-350, -275)]
I_LEGO = [(-541, -626), (-447, -686), (-405, -671), (-336, -595), (-238, -455), (-127, -315), (13, -152), (152, 10),
          (291, 162), (431, 300), (560, 430), (675, 546), (702, 540), (715, 480), (727, 191), (680, 142), (467, 60),
          (347, -5), (190, -70), (0, -180), (-150, -270), (-286, -318), (-260, -305), (-88, -220), (190, -66),
          (374, -19), (467, 2), (651, 17), (726, 30), (750, 90), (837, 381), (808, 400), (651, 352), (467, 275),
          (283, 170), (97, -5), (-88, -150), (-200, -240), (-286, -318), None,
          (-164, 159), (-266, 69), (-406, -59), (-489, -129), (-485, -150), (-336, -273), (-152, -490),
          (-140, -495)]
I_ORORA = [(-733, -391), (-700, -445), (-663, -476), (-629, -478), (-545, -438), (-475, -392), (-350, -268),
           (-197, -125), (0, -2), (249, 195), (431, 295), (570, 378), (709, 485), (735, 494), (755, 480), (755, 300),
           (752, 145), (735, 112), (640, 78), (431, 10), (291, -80), (152, -225), (13, -355), (-127, -485),
           (-150, -500), (-172, -485), (-350, -280)]
I_OURS = [(-733, -414), (-700, -460), (-663, -490), (-629, -496), (-545, -455), (-475, -400), (-350, -258),
          (-197, -110), (0, 8), (249, 210), (431, 310), (570, 392), (709, 500), (735, 508), (768, 488), (765, 300),
          (762, 140), (740, 104), (640, 66), (431, -24), (291, -105), (152, -245), (13, -370), (-127, -493),
          (-150, -505), (-168, -492), (-350, -268)]

SERIES = ["ground_truth", "yeti", "sc_lego_loam", "sc_orora", "ours"]
COLORS = ["#4d4d4d", "#1f77b4", "#ff7f0e", "#2ca02c", "#d62728"]

W, H = 3306, 3325


def to_xy(pts):
    xs = np.array([np.nan if p is None else p[0] for p in pts], dtype=float)
    ys = np.array([np.nan if p is None else p[1] for p in pts], dtype=float)
    return xs, ys


# label, series, axes box px (l, t, r, b), xlim, ylim, xticks, yticks,
# legend loc, font size, legend label spacing, label centre px
panels = [
    ("(a)", [A_GT, A_YETI, A_LEGO, A_ORORA, A_OURS], (155, 42, 974, 790), (-112.7, 566.7), (-109.9, 498),
     range(-100, 501, 100), range(-100, 401, 100), "upper right", 20, 0.5, (494, 990)),
    ("(b)", [B_GT, B_YETI, B_LEGO, B_ORORA, B_OURS], (1280, 42, 2114, 790), (-101, 563), (-70, 527.5),
     range(-100, 501, 100), range(0, 501, 100), "upper right", 20, 0.5, (1635, 990)),
    ("(c)", [C_GT, C_YETI, C_LEGO, C_ORORA, C_OURS], (2419, 42, 3258, 790), (-106, 574), (-24, 540),
     range(-100, 501, 100), range(0, 501, 100), "upper right", 20, 0.5, (2778, 990)),
    ("(d)", [D_GT, D_YETI, D_LEGO, D_ORORA, D_OURS], (144, 1174, 976, 1920), (-277, 721), (-281, 517),
     range(-200, 601, 200), range(-200, 501, 100), "upper right", 18.5, 0.7, (494, 2123)),
    ("(e)", [E_GT, E_YETI, E_LEGO, E_ORORA, E_OURS], (1281, 1178, 2129, 1924), (-325, 657), (-146, 604),
     range(-200, 601, 200), range(-100, 601, 100), "upper right", 18, 0.8, (1636, 2123)),
    ("(f)", [F_GT, F_YETI, F_LEGO, F_ORORA, F_OURS], (2392, 1182, 3261, 1941), (-375, 605), (-70, 643),
     range(-200, 601, 200), range(0, 601, 100), "lower left", 17.5, 0.85, (2778, 2123)),
    ("(g)", [G_GT, G_YETI, G_LEGO, G_ORORA, G_OURS], (144, 2306, 980, 3053), (-203, 1361), (-231, 1017),
     range(-200, 1201, 200), range(-200, 1001, 200), "upper left", 18.5, 0.75, (494, 3251)),
    ("(h)", [H_GT, H_YETI, H_LEGO, H_ORORA, H_OURS], (1220, 2304, 2075, 3058), (-604, 1155), (-397, 798),
     range(-600, 1001, 200), range(-400, 601, 200), "upper left", 17.5, 1.0, (1586, 3251)),
    ("(i)", [I_GT, I_YETI, I_LEGO, I_ORORA, I_OURS], (2325, 2310, 3156, 3053), (-807, 911), (-744, 612),
     range(-800, 801, 200), range(-600, 601, 200), "upper left", 18.5, 0.72, (2676, 3251)),
]

fig = plt.figure(figsize=(W / 100, H / 100), dpi=100)

for label, data, box, xlim, ylim, xt, yt, loc, fs, lsp, lab_xy in panels:
    l, t, r, b = box
    ax = fig.add_axes([l / W, 1 - b / H, (r - l) / W, (b - t) / H])
    ax.set_facecolor("#EAEAF2")
    for s in ax.spines.values():
        s.set_visible(False)
    ax.grid(True, color="white", lw=1.6)
    ax.set_axisbelow(True)

    for name, color, pts in zip(SERIES, COLORS, data):
        x, y = to_xy(pts)
        if name == "ground_truth":
            ax.plot(x, y, color=color, lw=2.4, ls="--", alpha=0.8, label=name)
        else:
            ax.plot(x, y, color=color, lw=2.4, alpha=0.8, label=name)

    ax.set_xlim(*xlim)
    ax.set_ylim(*ylim)
    ax.set_xticks(list(xt))
    ax.set_yticks(list(yt))
    ax.tick_params(length=0, pad=9, labelsize=fs)
    ax.set_xlabel(r"$x$ (m)", fontsize=fs + 0.5, labelpad=4)
    ax.set_ylabel(r"$y$ (m)", fontsize=fs + 0.5, labelpad=6)
    ax.legend(loc=loc, fontsize=fs, labelspacing=lsp, facecolor="#EAEAF2", edgecolor="#cccccc",
              framealpha=0.8)

    fig.text(lab_xy[0] / W, 1 - lab_xy[1] / H, label, ha="center", va="center",
             fontsize=52, fontweight="bold", family="Liberation Serif")

fig.savefig("out.png", dpi=100, facecolor="white")
